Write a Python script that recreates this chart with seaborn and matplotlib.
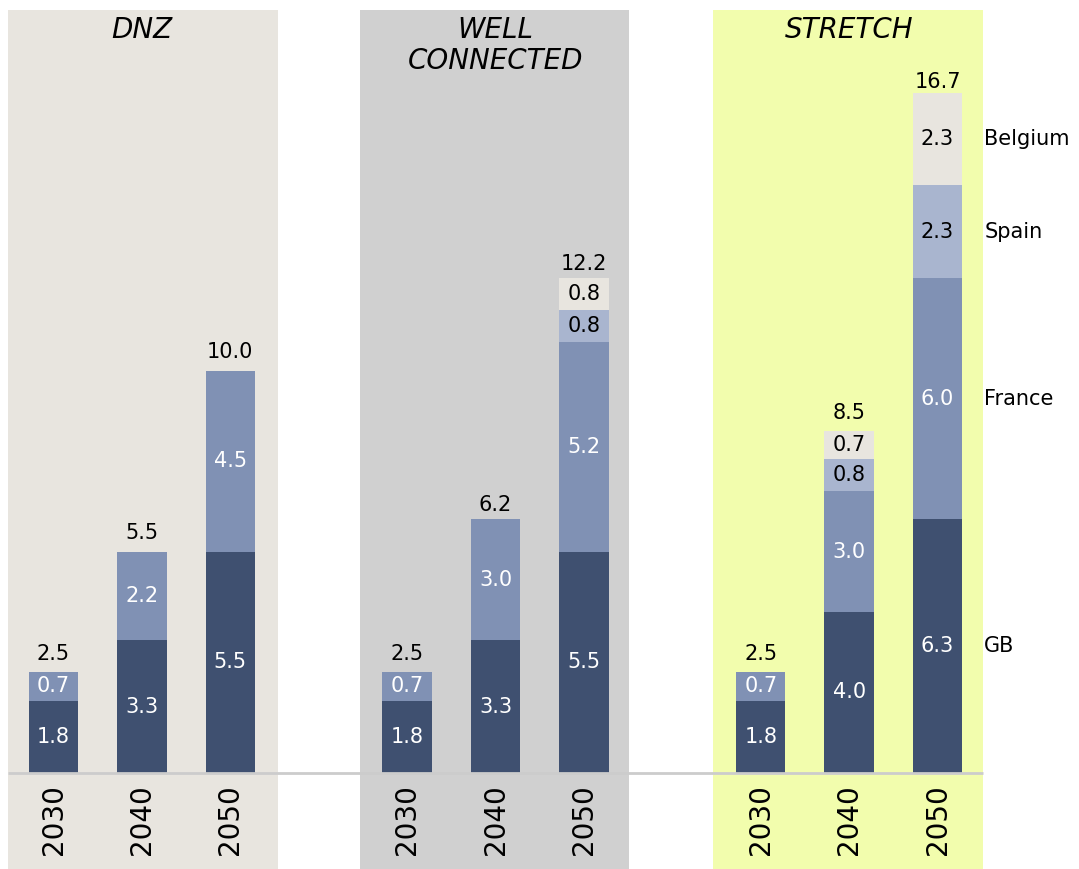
import numpy as np
import pandas as pd
import matplotlib
matplotlib.use("Agg")
import matplotlib.pyplot as plt
import seaborn as sns

# scenarios and years
scenarios = ["DNZ", "WELL\nCONNECTED", "STRETCH"]
years = ["2030", "2040", "2050"]
countries = ["GB", "France", "Spain", "Belgium"]

# stacked values per scenario (2030, 2040, 2050)
gb = [[1.8, 3.3, 5.5], [1.8, 3.3, 5.5], [1.8, 4.0, 6.3]]
france = [[0.7, 2.2, 4.5], [0.7, 3.0, 5.2], [0.7, 3.0, 6.0]]
spain = [[0, 0, 0], [0, 0, 0.8], [0, 0.8, 2.3]]
belgium = [[0, 0, 0], [0, 0, 0.8], [0, 0.7, 2.3]]
totals = [[2.5, 5.5, 10.0], [2.5, 6.2, 12.2], [2.5, 8.5, 16.7]]

colors = {"GB": "#3f5070", "France": "#8091b4", "Spain": "#a9b5cf", "Belgium": "#e8e5df"}
text_colors = {"GB": "white", "France": "white", "Spain": "black", "Belgium": "black"}
panel_bg = ["#e8e5df", "#d0d0d0", "#f2fdad"]

sns.set_theme(style="white")
plt.rcParams["font.family"] = ["DejaVu Sans"]
plt.rcParams["text.color"] = "black"

# long table
rows = []
layers = {"GB": gb, "France": france, "Spain": spain, "Belgium": belgium}
for s in range(3):
    for y in range(3):
        pos = s * 4 + y
        base = 0.0
        for c in countries:
            v = layers[c][s][y]
            rows.append({"pos": pos, "country": c, "value": v, "bottom": base, "cum": base + v,
                         "scenario": s, "year": years[y]})
            base += v
df = pd.DataFrame(rows)

fig = plt.figure(figsize=(10.79, 8.69), dpi=100)
ax = fig.add_axes([0, 0, 1, 1])

px_x = 88.4
px_y = 40.25
x0 = -53.5 / px_x
ax.set_xlim(x0, x0 + 1079 / px_x)
ax.set_ylim(-96 / px_y, 773 / px_y)

# panel backgrounds
for s in range(3):
    left = -0.515 if s == 0 else s * 4 - 0.537
    ax.axvspan(left, left + 3.05, ymin=0, ymax=(869 - 10) / 869,
               color=panel_bg[s], lw=0, zorder=0)
    ax.text(s * 4 + 1.0, 757 / px_y, scenarios[s], ha="center", va="top",
            fontsize=20, style="italic", linespacing=1.15, zorder=5)

# stacked bars: draw cumulative from top layer down
for c in reversed(countries):
    sub = df[df["country"] == c]
    sns.barplot(data=sub, x="pos", y="cum", color=colors[c], native_scale=True,
                width=0.557, errorbar=None, linewidth=0, saturation=1, ax=ax, zorder=2)

# segment labels
for _, r in df.iterrows():
    if r["value"] > 0:
        ax.text(r["pos"], r["bottom"] + r["value"] / 2, f"{r['value']:.1f}",
                ha="center", va="center", fontsize=15, color=text_colors[r["country"]], zorder=4)

# totals and year labels
for s in range(3):
    for y in range(3):
        pos = s * 4 + y
        ax.annotate(f"{totals[s][y]:.1f}", (pos, totals[s][y]), xytext=(0, 6),
                    textcoords="offset points", ha="center", va="bottom", fontsize=15, zorder=4)
        ax.text(pos, -11 / px_y, years[y], rotation=90, ha="center", va="top",
                fontsize=20, zorder=4)

# baseline
ax.plot([-0.515, 8 - 0.537 + 3.05], [0, 0], color="#cccccc", lw=2, zorder=3, solid_capstyle="butt")

# country labels right of last bar
last = df[(df["scenario"] == 2) & (df["year"] == "2050")]
for _, r in last.iterrows():
    ax.text(10.53, r["bottom"] + r["value"] / 2, r["country"],
            ha="left", va="center", fontsize=15, zorder=4)

ax.axis("off")
fig.savefig("out.png", dpi=100)
